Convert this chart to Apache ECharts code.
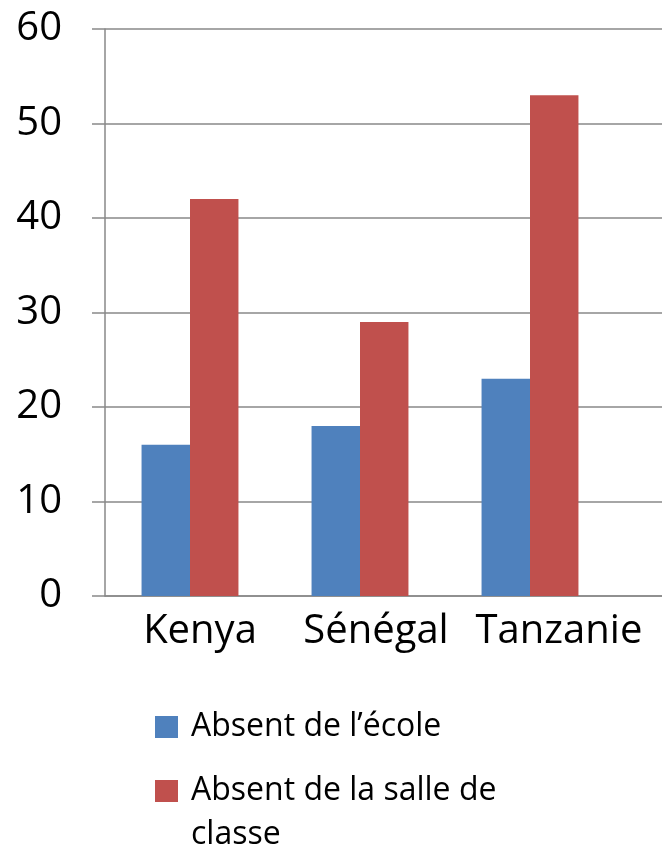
<!DOCTYPE html>
<html>
<head>
<meta charset="utf-8">
<script src="https://cdn.jsdelivr.net/npm/echarts@6/dist/echarts.min.js"></script>
<style>
  html, body { margin: 0; padding: 0; background: #fff; }
  #chart { width: 662px; height: 846px; }
</style>
</head>
<body>
<div id="chart"></div>
<script>
const categories = ["Kenya", "Sénégal", "Tanzanie"];
const absentEcole = [16, 18, 23];
const absentSalle = [42, 29, 53];
const seriesNames = ["Absent de l’école", "Absent de la salle de classe"];

const gridColor = "#898989";
const font = "Open Sans";

const chart = echarts.init(document.getElementById("chart"));

const option = {
  animation: false,
  textStyle: { fontFamily: font, color: "#000" },
  grid: [
    // bars
    { left: 105, right: 47, top: 29, bottom: 250 },
    // background gridlines running to the edge
    { left: 105, right: 0, top: 29, bottom: 250 }
  ],
  xAxis: [
    {
      type: "category",
      gridIndex: 0,
      data: categories,
      axisLine: { show: false },
      axisTick: { show: false },
      axisLabel: {
        interval: 0,
        hideOverlap: false,
        fontSize: 40,
        fontFamily: font,
        color: "#000",
        margin: 16,
        // small per-label nudge to sit like the original
        formatter: (v, i) => `{c${i}|${v}}`,
        rich: {
          c0: { fontSize: 40, fontFamily: font, padding: [0, 0, 0, 20] },
          c1: { fontSize: 40, fontFamily: font, padding: [0, 0, 0, 32] },
          c2: { fontSize: 40, fontFamily: font, padding: [0, 0, 0, 58] }
        }
      }
    },
    {
      type: "category",
      gridIndex: 1,
      data: [""],
      axisLine: { show: true, lineStyle: { color: gridColor, width: 1.5 } },
      axisTick: { show: false },
      axisLabel: { show: false }
    }
  ],
  yAxis: [
    {
      type: "value",
      gridIndex: 0,
      min: 0,
      max: 60,
      interval: 10,
      axisLine: { show: true, lineStyle: { color: gridColor, width: 1.5 } },
      axisTick: { show: true, length: 13, lineStyle: { color: gridColor, width: 1.5 } },
      splitLine: { show: false },
      axisLabel: { fontSize: 40, fontFamily: font, color: "#000", margin: 43 }
    },
    {
      type: "value",
      gridIndex: 1,
      min: 0,
      max: 60,
      interval: 10,
      axisLine: { show: false },
      axisTick: { show: false },
      axisLabel: { show: false },
      splitLine: { show: true, lineStyle: { color: gridColor, width: 1.5 } }
    }
  ],
  legend: [
    {
      data: [seriesNames[0]],
      orient: "vertical",
      left: 155,
      top: 705,
      padding: 0,
      itemWidth: 23,
      itemHeight: 22,
      icon: "rect",
      textStyle: { fontSize: 32, fontFamily: font, color: "#000", lineHeight: 44, padding: [0, 0, 0, 8] }
    },
    {
      data: [seriesNames[1]],
      orient: "vertical",
      left: 155,
      top: 725,
      padding: 0,
      itemWidth: 23,
      itemHeight: 22,
      icon: "rect",
      // blank first line keeps the icon level with the first text line
      formatter: () => "\nAbsent de la salle de\nclasse",
      textStyle: { fontSize: 32, fontFamily: font, color: "#000", lineHeight: 44, padding: [0, 0, 0, 8] }
    }
  ],
  series: [
    {
      name: seriesNames[0],
      type: "bar",
      xAxisIndex: 0,
      yAxisIndex: 0,
      data: absentEcole,
      barGap: "0%",
      barCategoryGap: "43%",
      itemStyle: { color: "#4F81BD" }
    },
    {
      name: seriesNames[1],
      type: "bar",
      xAxisIndex: 0,
      yAxisIndex: 0,
      data: absentSalle,
      barGap: "0%",
      barCategoryGap: "43%",
      itemStyle: { color: "#C0504D" }
    }
  ]
};

chart.setOption(option);
</script>
</body>
</html>
